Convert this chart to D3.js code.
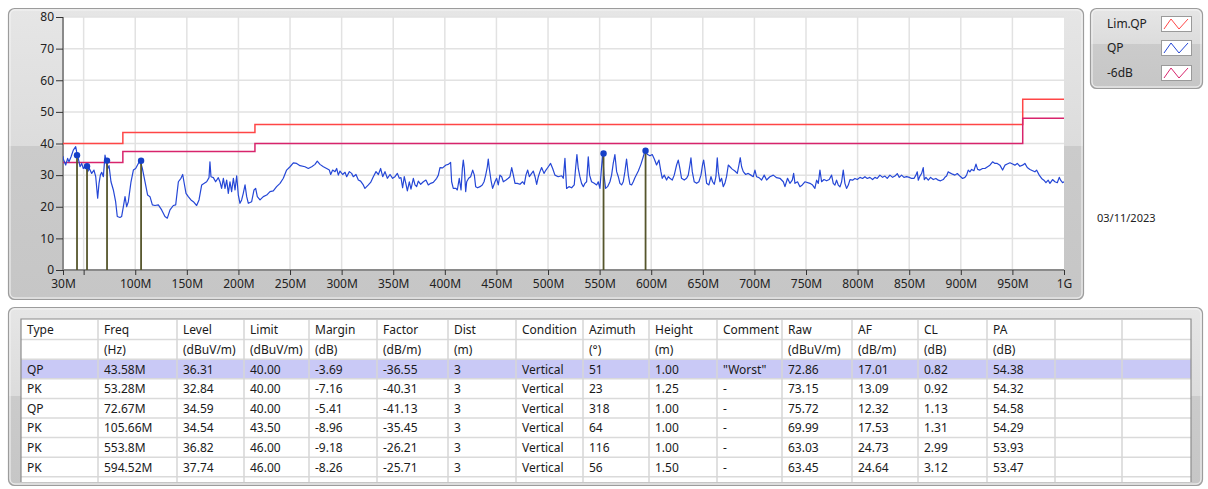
<!DOCTYPE html>
<html>
<head>
<meta charset="utf-8">
<script src="https://cdn.jsdelivr.net/npm/d3@7"></script>
<style>
  body { margin: 0; background: #fff; }
  svg { display: block; font-family: "Noto Sans", "DejaVu Sans", sans-serif; }
</style>
</head>
<body>
<script>
// limit lines (MHz edges, dBuV/m)
var limitFreq = [30, 88, 216, 960, 1000];
var limitQP = [40, 43.5, 46, 54, 54];
var limit6dB = [34, 37.5, 40, 48, 48];

// QP sweep trace: [MHz, dBuV/m]
var qpTrace = [
  [30.0,36.0],[30.3,35.1],[32.6,33.2],[34.5,35.3],[35.8,34.2],[37.8,35.8],[40.0,37.9],[42.3,39.0],[43.2,37.4],[44.9,35.1],
  [46.5,32.65],[48.1,33.7],[49.7,32.1],[52.0,32.9],[53.9,31.1],[55.5,32.1],[57.8,30.55],[60.0,31.6],[61.7,29.5],[63.6,22.7],
  [64.9,27.4],[66.2,30.0],[67.5,30.9],[69.1,29.5],[70.7,36.3],[71.7,34.75],[73.3,32.1],[74.6,33.0],[76.5,27.9],[78.8,25.3],
  [81.0,21.6],[82.6,16.9],[85.2,16.6],[86.8,16.9],[88.5,20.05],[90.1,23.2],[91.7,20.05],[93.3,21.6],[95.9,27.9],[98.2,31.6],
  [100.4,32.1],[103.0,33.7],[104.9,34.5],[106.9,32.1],[109.5,27.9],[112.0,23.7],[114.3,23.2],[116.6,20.6],[119.1,20.4],[122.4,20.6],
  [125.6,19.0],[128.8,16.9],[131.1,16.4],[133.7,19.0],[136.9,20.4],[139.2,20.6],[141.8,27.9],[144.3,29.0],[146.0,30.2],[147.2,27.9],
  [149.2,24.25],[151.4,23.2],[154.0,22.15],[156.3,21.6],[159.5,20.4],[161.8,22.15],[164.4,26.9],[166.9,27.4],[169.2,27.9],[171.5,29.2],
  [172.4,34.2],[173.4,29.5],[175.7,29.2],[177.9,27.9],[180.5,29.2],[182.1,27.9],[183.7,25.8],[185.4,29.0],[187.0,25.8],[188.6,28.45],
  [190.2,24.25],[191.8,27.9],[193.4,24.8],[195.1,29.0],[196.7,25.3],[198.3,29.8],[199.9,23.7],[201.5,21.1],[203.1,22.15],[204.7,24.25],
  [206.4,26.9],[208.0,23.2],[209.6,21.1],[212.8,21.6],[215.1,25.3],[216.7,25.8],[218.3,23.2],[220.9,22.15],[224.1,23.2],[227.4,23.7],
  [230.6,24.8],[233.8,25.0],[237.0,26.35],[240.3,27.4],[243.5,29.0],[246.7,31.6],[250.0,32.65],[253.2,33.9],[256.4,33.7],[259.7,33.0],
  [264.5,32.65],[267.7,32.1],[271.0,32.65],[274.2,33.4],[276.4,34.4],[279.0,33.4],[282.3,32.65],[285.5,32.1],[288.1,31.6],[289.4,30.2],
  [291.3,31.6],[293.6,31.1],[295.2,32.1],[296.8,30.0],[298.4,31.3],[301.0,30.2],[303.3,30.9],[304.9,29.5],[307.5,31.1],[309.7,30.55],
  [311.3,29.5],[313.9,30.2],[316.2,28.45],[318.4,28.1],[321.0,26.9],[322.6,25.8],[325.9,26.9],[328.1,27.7],[330.7,29.5],[333.3,31.1],
  [335.6,30.2],[337.8,32.1],[339.8,29.5],[342.0,31.1],[344.3,29.0],[346.9,30.2],[349.4,29.0],[351.7,29.5],[354.0,30.55],[355.9,29.0],
  [357.5,29.2],[359.1,26.0],[360.7,29.5],[362.4,27.1],[363.7,25.0],[365.6,27.9],[367.2,25.6],[369.5,29.0],[371.1,26.9],[372.7,26.35],
  [374.3,28.1],[376.6,27.1],[379.2,27.9],[381.7,28.45],[384.0,26.9],[386.3,27.4],[388.8,27.7],[392.1,29.0],[393.7,30.0],[395.3,32.4],
  [397.9,32.3],[401.1,33.2],[403.4,33.4],[405.6,34.0],[406.6,27.9],[408.2,25.8],[410.8,25.8],[412.1,25.3],[414.0,29.0],[415.7,25.3],
  [417.0,32.1],[417.9,34.75],[418.9,32.1],[420.2,24.8],[421.2,27.9],[423.1,29.0],[425.0,29.5],[427.0,31.6],[428.6,30.0],[429.9,26.35],
  [431.8,26.0],[434.1,26.35],[436.3,26.9],[438.0,27.9],[439.6,30.0],[441.2,32.65],[442.1,35.1],[443.1,32.1],[444.7,28.45],[446.3,25.8],
  [448.6,27.9],[450.2,29.0],[451.8,26.9],[453.4,30.0],[455.1,29.5],[456.7,27.9],[459.3,28.45],[461.5,29.0],[463.1,29.5],[464.8,32.4],
  [466.4,30.0],[468.0,27.4],[470.2,27.4],[472.8,27.1],[475.4,27.9],[477.0,27.1],[478.6,30.0],[480.3,31.6],[481.9,29.5],[484.1,30.55],
  [485.7,31.3],[487.4,29.5],[489.0,27.1],[490.6,29.5],[492.2,31.1],[493.8,32.4],[496.1,30.55],[498.0,31.6],[500.3,32.65],[502.5,33.7],
  [504.5,32.1],[506.7,30.0],[509.9,29.5],[513.2,29.8],[514.8,29.0],[516.4,35.3],[518.0,25.8],[520.3,26.35],[522.9,26.0],[525.4,26.9],
  [526.7,32.1],[528.0,36.5],[529.3,32.1],[530.9,29.5],[532.5,27.4],[534.2,26.35],[535.8,27.4],[537.4,27.9],[539.0,35.8],[540.3,30.0],
  [542.2,27.9],[544.8,27.4],[547.1,26.9],[548.7,27.9],[550.3,25.8],[551.9,32.65],[552.9,36.85],[554.2,30.0],[555.8,25.8],[557.7,26.35],
  [560.0,27.9],[561.6,30.0],[563.2,33.7],[564.8,36.5],[566.5,31.1],[568.1,29.5],[569.7,27.4],[571.3,26.9],[572.9,27.9],[574.5,31.1],
  [576.1,35.1],[577.8,30.0],[579.4,27.1],[581.0,26.9],[582.6,27.9],[584.2,29.2],[587.5,31.3],[590.0,33.4],[592.3,35.8],[593.9,37.6],
  [596.5,36.5],[598.8,36.1],[601.0,36.5],[603.0,35.1],[605.2,33.2],[607.5,34.75],[609.4,31.1],[610.7,29.0],[612.6,30.0],[614.9,28.45],
  [616.5,29.5],[618.1,29.0],[620.4,28.45],[622.3,30.0],[624.6,33.2],[626.2,34.75],[627.8,32.1],[629.4,29.0],[632.0,28.45],[634.3,29.0],
  [635.9,30.0],[637.5,33.2],[638.5,35.5],[639.8,31.1],[641.7,27.9],[644.0,27.4],[646.2,27.9],[648.2,30.0],[649.8,33.4],[650.8,34.75],
  [652.0,32.1],[653.7,27.4],[655.9,26.9],[657.9,29.5],[659.5,27.9],[661.1,27.1],[662.7,29.5],[664.0,35.5],[665.0,31.1],[666.6,27.9],
  [668.2,29.0],[669.8,26.35],[671.4,27.4],[673.0,29.5],[674.7,33.2],[676.3,32.65],[678.5,31.9],[681.1,31.3],[683.4,30.55],[685.0,33.2],
  [686.3,35.5],[687.6,32.65],[689.2,31.1],[691.5,30.2],[694.0,30.55],[696.6,30.0],[698.9,29.5],[700.5,31.6],[702.1,29.5],[704.4,29.2],
  [707.0,28.45],[709.5,30.0],[711.8,28.45],[715.0,29.5],[718.3,30.0],[721.5,29.2],[724.7,29.0],[728.0,27.9],[729.6,26.35],[732.1,29.0],
  [734.4,27.4],[736.7,28.45],[738.0,30.55],[739.3,27.4],[741.8,27.9],[744.1,26.35],[746.4,26.9],[748.9,27.9],[753.8,27.4],[756.4,26.85],
  [758.6,25.8],[760.3,28.4],[761.9,27.4],[763.5,31.6],[765.1,27.9],[767.4,28.6],[770.0,28.2],[772.5,28.6],[774.8,30.0],[776.4,27.4],
  [778.0,26.85],[779.6,28.4],[781.3,26.85],[782.9,26.3],[784.5,27.9],[786.1,31.6],[787.7,27.4],[789.3,25.8],[791.0,26.85],[792.6,28.6],
  [795.1,28.4],[797.4,28.95],[799.7,28.6],[802.3,29.3],[804.8,28.95],[807.1,29.5],[809.4,28.95],[811.9,29.3],[814.5,28.6],[816.8,29.3],
  [819.0,28.95],[821.6,30.0],[824.2,29.3],[826.5,29.7],[828.7,28.95],[831.3,30.0],[833.9,29.3],[836.2,29.7],[838.4,30.5],[840.4,29.3],
  [842.6,30.0],[844.9,29.3],[847.5,29.5],[850.1,29.3],[852.3,28.95],[854.6,28.95],[856.5,30.0],[857.8,31.05],[858.8,28.4],[860.4,29.7],
  [862.0,30.5],[863.6,32.4],[864.6,28.6],[866.2,29.3],[868.5,28.4],[870.7,29.3],[873.3,28.6],[875.9,28.95],[878.2,28.4],[880.4,28.2],
  [883.0,28.6],[884.6,29.3],[886.2,29.7],[887.8,31.05],[889.5,30.7],[892.0,30.3],[894.3,30.0],[896.6,30.5],[899.1,29.7],[901.7,28.95],
  [904.0,29.3],[905.6,30.0],[907.2,31.6],[908.8,31.05],[910.5,31.8],[912.7,31.4],[914.7,33.5],[916.3,31.8],[918.5,31.6],[921.1,32.1],
  [923.4,32.1],[925.6,32.6],[928.2,33.15],[930.8,34.2],[933.1,33.7],[935.3,33.7],[937.9,33.15],[940.5,31.6],[942.8,33.15],[945.0,33.5],
  [947.6,33.9],[950.2,33.5],[952.4,33.15],[954.7,33.7],[957.3,32.8],[959.9,33.15],[962.1,33.7],[964.4,32.4],[967.0,31.8],[969.6,31.4],
  [971.8,31.05],[973.4,31.6],[976.0,30.0],[978.3,28.95],[980.5,28.4],[982.5,27.6],[984.7,28.4],[986.4,27.4],[988.9,28.6],[991.2,27.9],
  [993.5,27.6],[995.4,29.3],[996.7,28.4],[998.6,27.6],[1000,27.9]
];

// final measurement table
var mType = ["QP", "PK", "QP", "PK", "PK", "PK"];
var mFreq = [43.58, 53.28, 72.67, 105.66, 553.8, 594.52];
var mLevel = [36.31, 32.84, 34.59, 34.54, 36.82, 37.74];
var mLimit = [40, 40, 40, 43.5, 46, 46];
var mMargin = [-3.69, -7.16, -5.41, -8.96, -9.18, -8.26];
var mFactor = [-36.55, -40.31, -41.13, -35.45, -26.21, -25.71];
var mDist = [3, 3, 3, 3, 3, 3];
var mCondition = ["Vertical", "Vertical", "Vertical", "Vertical", "Vertical", "Vertical"];
var mAzimuth = [51, 23, 318, 64, 116, 56];
var mHeight = [1.0, 1.25, 1.0, 1.0, 1.0, 1.5];
var mComment = ["\"Worst\"", "-", "-", "-", "-", "-"];
var mRaw = [72.86, 73.15, 75.72, 69.99, 63.03, 63.45];
var mAF = [17.01, 13.09, 12.32, 17.53, 24.73, 24.64];
var mCL = [0.82, 0.92, 1.13, 1.31, 2.99, 3.12];
var mPA = [54.38, 54.32, 54.58, 54.29, 53.93, 53.47];

var headers = ["Type", "Freq", "Level", "Limit", "Margin", "Factor", "Dist", "Condition", "Azimuth", "Height", "Comment", "Raw", "AF", "CL", "PA", "", ""];
var units = ["", "(Hz)", "(dBuV/m)", "(dBuV/m)", "(dB)", "(dB/m)", "(m)", "", "(°)", "(m)", "", "(dBuV/m)", "(dB/m)", "(dB)", "(dB)", "", ""];

var yTicks = [0, 10, 20, 30, 40, 50, 60, 70, 80];
var xTicks = [30, 50, 100, 150, 200, 250, 300, 350, 400, 450, 500, 550, 600, 650, 700, 750, 800, 850, 900, 950, 1000];
var legendNames = ["Lim.QP", "QP", "-6dB"];
var dateText = "03/11/2023";

var width = 1208, height = 489;
var svg = d3.select("body").append("svg").attr("width", width).attr("height", height);
var defs = svg.append("defs");

function panel(id, x, y, w, h, split) {
  var g = defs.append("linearGradient").attr("id", id).attr("x1", 0).attr("y1", 0).attr("x2", 0).attr("y2", 1);
  g.append("stop").attr("offset", 0).attr("stop-color", "#e6e6e6");
  g.append("stop").attr("offset", split).attr("stop-color", "#dcdcdc");
  g.append("stop").attr("offset", split).attr("stop-color", "#cbcbcb");
  g.append("stop").attr("offset", 1).attr("stop-color", "#c6c6c6");
  svg.append("rect")
    .attr("x", x).attr("y", y).attr("width", w).attr("height", h)
    .attr("rx", 6).attr("ry", 6)
    .style("fill", "url(#" + id + ")")
    .style("stroke", "#9c9c9c").style("stroke-width", 1.2);
  svg.append("rect")
    .attr("x", x + 1.5).attr("y", y + 1.5).attr("width", w - 3).attr("height", h - 3)
    .attr("rx", 5).attr("ry", 5)
    .style("fill", "none").style("stroke", "#f4f4f4").style("stroke-width", 1);
}

panel("gGraph", 8.5, 8.5, 1075, 291, 0.473);
panel("gLegend", 1090.5, 8.5, 112, 80, 0.44);
panel("gTable", 8.5, 307.5, 1194, 178, 0.5);

// ---- graph ----
var plot = { left: 63, right: 1064, top: 17, bottom: 270 };
var x = d3.scaleLinear().domain([30, 1000]).range([plot.left, plot.right]);
var y = d3.scaleLinear().domain([0, 80]).range([plot.bottom, plot.top]);

svg.append("rect")
  .attr("x", plot.left).attr("y", plot.top)
  .attr("width", plot.right - plot.left).attr("height", plot.bottom - plot.top)
  .style("fill", "#fff");

defs.append("clipPath").attr("id", "plotClip").append("rect")
  .attr("x", plot.left).attr("y", plot.top)
  .attr("width", plot.right - plot.left).attr("height", plot.bottom - plot.top);

var grid = svg.append("g").style("stroke", "#e2e2e2").style("stroke-width", 1.5);
grid.selectAll(".gx").data(xTicks.slice(1, -1)).enter().append("line")
  .attr("x1", function (d) { return x(d); }).attr("x2", function (d) { return x(d); })
  .attr("y1", plot.top).attr("y2", plot.bottom);
grid.selectAll(".gy").data(yTicks.slice(1)).enter().append("line")
  .attr("x1", plot.left).attr("x2", plot.right)
  .attr("y1", function (d) { return y(d); }).attr("y2", function (d) { return y(d); });

var yAxis = svg.append("g")
  .attr("transform", "translate(" + plot.left + ",0)")
  .call(d3.axisLeft(y).tickValues(yTicks).tickSize(7).tickPadding(2));
var xAxis = svg.append("g")
  .attr("transform", "translate(0," + plot.bottom + ")")
  .call(d3.axisBottom(x).tickValues(xTicks).tickSize(5).tickPadding(4)
    .tickFormat(function (d) { return d === 1000 ? "1G" : d === 50 ? "" : d + "M"; }));
[xAxis, yAxis].forEach(function (a) {
  a.select(".domain").style("stroke", "#8a8a8a").style("stroke-width", 2);
  a.selectAll(".tick line").style("stroke", "#333");
  a.selectAll("text").style("font-size", "12px").style("fill", "#222")
    .style("font-family", "\"Noto Sans\", sans-serif");
});
yAxis.select(".domain").attr("d", "M0," + plot.bottom + "V" + plot.top);
xAxis.select(".domain").attr("d", "M" + plot.left + ",0H" + plot.right);

var plotG = svg.append("g").attr("clip-path", "url(#plotClip)");

function limitLine(vals) {
  return d3.line().curve(d3.curveStepAfter)
    .x(function (d, i) { return x(limitFreq[i]); })
    .y(function (d) { return y(d); })(vals);
}

plotG.append("path").attr("d", limitLine(limitQP))
  .style("fill", "none").style("stroke", "#ff4646").style("stroke-width", 1.5);
plotG.append("path").attr("d", limitLine(limit6dB))
  .style("fill", "none").style("stroke", "#d8246c").style("stroke-width", 1.5);

var traceLine = d3.line()
  .x(function (d) { return x(d[0]); })
  .y(function (d) { return y(d[1]); });
plotG.append("path").datum(qpTrace).attr("d", traceLine)
  .style("fill", "none").style("stroke", "#2547d6").style("stroke-width", 1.2)
  .style("stroke-linejoin", "round");

plotG.selectAll(".mline").data(mFreq).enter().append("line")
  .attr("x1", function (d) { return x(d); }).attr("x2", function (d) { return x(d); })
  .attr("y1", function (d, i) { return y(mLevel[i]); }).attr("y2", y(0))
  .style("stroke", "#56562c").style("stroke-width", 1.8);
plotG.selectAll(".mdot").data(mFreq).enter().append("circle")
  .attr("cx", function (d) { return x(d); })
  .attr("cy", function (d, i) { return y(mLevel[i]); })
  .attr("r", 3.2).style("fill", "#1640c8");

svg.append("text").attr("x", 1097).attr("y", 222).text(dateText)
  .style("font-size", "11px").style("fill", "#222");

// ---- legend ----
var legendColors = ["#ff4646", "#2547d6", "#d8246c"];
var legendY = [24, 48, 73];
legendNames.forEach(function (name, i) {
  var cy = legendY[i];
  svg.append("text").attr("x", 1107).attr("y", cy + 4).text(name)
    .style("font-size", "12px").style("fill", "#222");
  svg.append("rect").attr("x", 1161.5).attr("y", cy - 7.5).attr("width", 30).attr("height", 15)
    .style("fill", "#fff").style("stroke", "#9a9a9a");
  svg.append("path")
    .attr("d", d3.line()([[1164, cy + 5], [1171, cy - 5], [1179, cy + 5], [1188, cy - 5]]))
    .style("fill", "none").style("stroke", legendColors[i]).style("stroke-width", 1);
});

// ---- table ----
var colEdges = [21, 98, 177, 244, 309, 377, 448, 516, 583, 649, 717, 782, 852, 918, 987, 1055, 1122, 1191];
var tTop = 320, rowH = 19.6, tBottom = 482;
var f2 = function (v) { return v.toFixed(2); };
var bodyRows = mType.map(function (t, i) {
  return [t, mFreq[i] + "M", f2(mLevel[i]), f2(mLimit[i]), f2(mMargin[i]), f2(mFactor[i]),
    String(mDist[i]), mCondition[i], String(mAzimuth[i]), f2(mHeight[i]), mComment[i],
    f2(mRaw[i]), f2(mAF[i]), f2(mCL[i]), f2(mPA[i]), "", ""];
});
var allRows = [headers, units].concat(bodyRows);

var table = svg.append("g");
table.append("rect").attr("x", colEdges[0]).attr("y", tTop - 1)
  .attr("width", colEdges[colEdges.length - 1] - colEdges[0]).attr("height", tBottom - tTop + 1)
  .style("fill", "#fff");
table.append("rect").attr("x", colEdges[0]).attr("y", tTop + rowH * 2)
  .attr("width", colEdges[colEdges.length - 1] - colEdges[0]).attr("height", rowH)
  .style("fill", "#c9c9f6");

var hLines = d3.range(1, allRows.length + 1).map(function (r) { return tTop + r * rowH; });
table.selectAll(".hl").data(hLines).enter().append("line")
  .attr("x1", colEdges[0]).attr("x2", colEdges[colEdges.length - 1])
  .attr("y1", function (d) { return d; }).attr("y2", function (d) { return d; })
  .style("stroke", "#dadada").style("stroke-width", 1.5);
table.selectAll(".vl").data(colEdges.slice(1, -1)).enter().append("line")
  .attr("x1", function (d) { return d; }).attr("x2", function (d) { return d; })
  .attr("y1", tTop).attr("y2", tBottom)
  .style("stroke", "#d6d6d6").style("stroke-width", 1.5);
table.append("path")
  .attr("d", "M" + colEdges[0] + "," + tBottom + "V" + (tTop - 1) + "H" + colEdges[colEdges.length - 1] + "V" + tBottom)
  .style("fill", "none").style("stroke", "#8c8c8c").style("stroke-width", 1.2);

allRows.forEach(function (row, r) {
  table.selectAll(".r" + r).data(row).enter().append("text")
    .attr("x", function (d, c) { return colEdges[c] + 6; })
    .attr("y", tTop + r * rowH + rowH / 2 + 4.5)
    .text(function (d) { return d; })
    .style("font-size", "12px").style("fill", "#1a1a1a");
});
</script>
</body>
</html>
